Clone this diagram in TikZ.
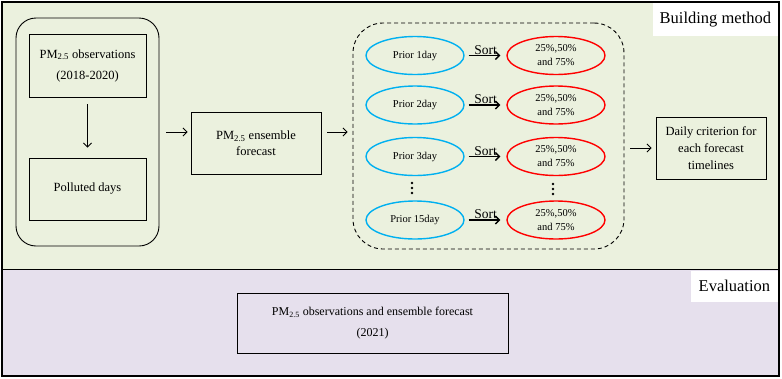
\documentclass[tikz,border=0pt]{standalone}
\usepackage{fontspec}
\setmainfont{Liberation Serif}
\usepackage{xcolor}
\usetikzlibrary{arrows.meta,shapes.geometric,positioning,calc}
\definecolor{buildfill}{RGB}{235,241,222}
\definecolor{evalfill}{RGB}{230,224,237}
\definecolor{priorblue}{RGB}{0,176,240}
\definecolor{pctred}{RGB}{255,0,0}

\begin{document}
\begin{tikzpicture}[>={Straight Barb[length=4pt,width=8pt]}, x=1pt, y=-1pt,
    box/.style={draw, line width=0.9pt, inner sep=0pt, align=center, font=\fontsize{12.5}{16}\selectfont},
    prior/.style={ellipse, draw=priorblue, line width=1.4pt, minimum width=98pt, minimum height=38pt, inner sep=0pt, align=center, font=\fontsize{10.5}{14}\selectfont},
    pct/.style={prior, draw=pctred},
    tag/.style={fill=white, inner sep=0pt, anchor=north east, font=\fontsize{16.5}{18}\selectfont},
    flow/.style={->, line width=0.8pt},
    sortarrow/.style={->, line width=1.3pt, shorten <=4pt, shorten >=6pt}]
\useasboundingbox (0,0) rectangle (782,378);

% panels
\draw[fill=buildfill, line width=1.8pt] (2,2) rectangle (779,269.5);
\draw[fill=evalfill, line width=1.8pt] (2,269.5) rectangle (779,376);
\node[tag, minimum width=125pt, minimum height=33pt] (buildtag) at (778.1,2.9) {Building method};
\node[tag, minimum width=87pt, minimum height=31pt] (evaltag) at (778.1,270.4) {Evaluation};

% observations
\node[draw, rounded corners=20pt, line width=0.9pt, minimum width=143pt, minimum height=228pt] (obsgroup) at (87.5,132) {};
\node[box, minimum width=117pt, minimum height=63pt, font=\fontsize{12.5}{21}\selectfont] (obs) at (87.5,65.5) {PM\textsubscript{2.5} observations\\(2018-2020)};
\node[box, minimum width=117pt, minimum height=62pt] (polluted) at (87.5,189) {Polluted days};
\draw[flow, shorten <=7pt, shorten >=10pt] (obs) -- (polluted);

\node[box, minimum width=130pt, minimum height=62pt] (ensemble) at (256,143) {PM\textsubscript{2.5} ensemble\\forecast};
\draw[flow, shorten <=7pt, shorten >=3pt] (obsgroup) -- (ensemble.west |- obsgroup.east);

% prior days
\node[draw, dashed, dash pattern=on 4pt off 3pt, rounded corners=30pt, line width=0.9pt, minimum width=271pt, minimum height=226pt] (priorgroup) at (488.5,136) {};
\draw[flow, shorten <=6pt, shorten >=5pt] (ensemble.east |- obsgroup.east) -- (priorgroup.west |- obsgroup.east);

\foreach \i/\d/\y in {1/1/55.5,2/2/105,3/3/156.5,4/15/220} {
    \node[prior] (prior\i) at (415,\y) {Prior \d day};
    \node[pct] (pct\i) at (556,\y) {25\%,50\%\\and 75\%};
    \draw[sortarrow] (prior\i) -- node[above, inner sep=0.5pt, font=\fontsize{13.5}{15}\selectfont] {Sort} (pct\i);
}
\foreach \y in {183,188,193} \fill (412,\y) circle (1.3pt);
\foreach \y in {184,189,194} \fill (553,\y) circle (1.3pt);

\node[box, minimum width=110pt, minimum height=62pt, font=\fontsize{12.5}{17}\selectfont] (daily) at (711,148) {Daily criterion for\\each forecast\\timelines};
\draw[flow, shorten <=6pt, shorten >=4pt] (priorgroup.east |- daily.west) -- (daily.west);

% evaluation
\node[box, minimum width=271pt, minimum height=60pt, font=\fontsize{12}{21}\selectfont] (evalbox) at (372.5,323) {PM\textsubscript{2.5} observations and ensemble forecast\\(2021)};
\end{tikzpicture}
\end{document}
